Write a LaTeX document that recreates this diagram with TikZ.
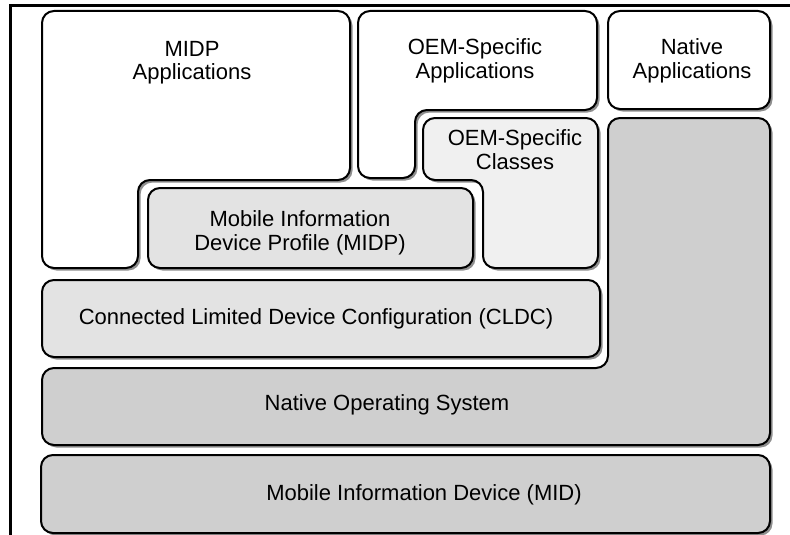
\documentclass[tikz,border=0pt]{standalone}
\usepackage{fontspec}
\setmainfont{Liberation Sans}
\usetikzlibrary{shadows}
\definecolor{layerpale}{gray}{0.94}
\definecolor{layerlight}{gray}{0.89}
\definecolor{layerdark}{gray}{0.81}
\tikzset{
	layer/.style={draw=black, line width=2pt, rounded corners=12pt,
		drop shadow={shadow xshift=2.5pt, shadow yshift=-2.5pt, fill=black!55, opacity=0.8}},
	layertext/.style={font=\fontsize{22}{24}\selectfont, align=center, anchor=base, inner sep=0pt}
}

\begin{document}
\begin{tikzpicture}[x=1pt, y=-1pt]
			%%%%% START %%%%%
			\useasboundingbox (0,0) rectangle (790,535);
			
			\draw[line width=2.7pt] (790, 5.8) -- (10.7, 5.8) -- (10.7, 535);
			
			% application row
			\draw[layer, fill=white] (42, 11) -- (350, 11) -- (350, 180) -- (138, 180) -- (138, 268) -- (42, 268) -- cycle;
			\draw[layer, fill=white] (358, 11) -- (597, 11) -- (597, 110) -- (415, 110) -- (415, 178) -- (358, 178) -- cycle;
			\draw[layer, fill=white] (608, 11) rectangle (770, 109);
			
			% profile and classes
			\draw[layer, fill=layerpale] (423, 118) -- (598, 118) -- (598, 268) -- (483, 268) -- (483, 180) -- (423, 180) -- cycle;
			\draw[layer, fill=layerlight] (148, 188) rectangle (473, 268);
			
			% configuration, os, device
			\draw[layer, fill=layerlight] (42, 280) rectangle (600, 357);
			\draw[layer, fill=layerdark] (42, 368) -- (608, 368) -- (608, 118) -- (770, 118) -- (770, 445) -- (42, 445) -- cycle;
			\draw[layer, fill=layerdark] (41, 455) rectangle (770, 533);
			
			\node[layertext] (midpapps) at (192, 80) {MIDP\\Applications};
			\node[layertext] (oemapps) at (475, 78) {OEM-Specific\\Applications};
			\node[layertext] (nativeapps) at (692, 78) {Native\\Applications};
			\node[layertext] (oemclasses) at (515, 169) {OEM-Specific\\Classes};
			\node[layertext] (midp) at (300, 250) {Mobile Information\\Device Profile (MIDP)};
			\node[layertext] (cldc) at (316, 324) {Connected Limited Device Configuration (CLDC)};
			\node[layertext] (nativeos) at (387, 410) {Native Operating System};
			\node[layertext] (mid) at (424, 500) {Mobile Information Device (MID)};
			
			%%%%% END %%%%%
\end{tikzpicture}
\end{document}
